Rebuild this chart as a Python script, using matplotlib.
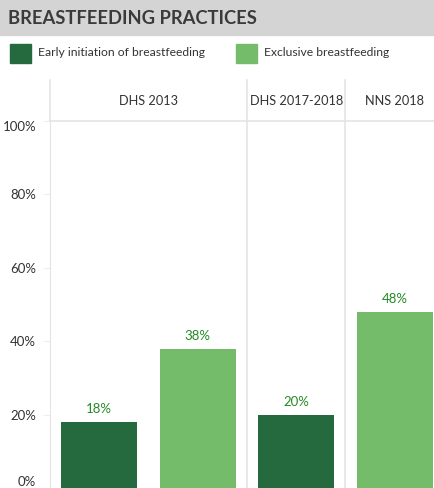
import matplotlib.pyplot as plt
from matplotlib.patches import Rectangle

# datos
encuestas = ['DHS 2013', 'DHS 2017-2018', 'NNS 2018']
series = ['Early initiation of breastfeeding', 'Exclusive breastfeeding']
barras_encuesta = ['DHS 2013', 'DHS 2013', 'DHS 2017-2018', 'NNS 2018']
barras_serie = ['Early initiation of breastfeeding', 'Exclusive breastfeeding',
                'Early initiation of breastfeeding', 'Exclusive breastfeeding']
valores = [18, 38, 20, 48]
ticks = [0, 20, 40, 60, 80, 100]

colores = {'Early initiation of breastfeeding': '#246a3e',
           'Exclusive breastfeeding': '#74bc6a'}

plt.rcParams['font.family'] = ['Lato', 'DejaVu Sans']

W, H = 435, 488
fig = plt.figure(figsize=(W / 100, H / 100), dpi=100)

# banda de titulo
fig.patches.append(Rectangle((0, 1 - 35 / H), 1, 35 / H, transform=fig.transFigure,
                             color='#d4d4d4', zorder=0))
fig.text(8 / W, 1 - 18 / H, 'BREASTFEEDING PRACTICES', fontsize=13.2, fontweight='bold',
         color='#3a3a3a', va='center', ha='left')

# leyenda
leg_x = [10, 236]
for x, s in zip(leg_x, series):
    fig.patches.append(Rectangle((x / W, 1 - 63 / H), 21 / W, 19 / H, transform=fig.transFigure,
                                 color=colores[s]))
    fig.text((x + 28) / W, 1 - 53 / H, s, fontsize=8.7, color='#333333', va='center', ha='left')

# eje principal (el ancho se sale de la figura a la derecha)
slot = 98.5
x0 = 50
ax_top = 121
ax = fig.add_axes([x0 / W, 0, 4 * slot / W, (H - ax_top) / H])
pos = list(range(len(valores)))
ax.bar(pos, valores, width=76 / slot, color=[colores[s] for s in barras_serie], zorder=2)
for p, v in zip(pos, valores):
    ax.text(p, v + 1.8, f'{v}%', ha='center', va='bottom', fontsize=9.5, color='#228a22')

ax.set_xlim(-0.5, len(valores) - 0.5)
ax.set_ylim(0, 100)
ax.set_yticks(ticks)
ax.set_yticklabels([f'{t}%' for t in ticks], fontsize=9.5, color='#333333')
ax.tick_params(axis='y', length=5, color='#eeeeee', pad=5)
for lab in ax.get_yticklabels():
    if lab.get_text() == '0%':
        lab.set_va('bottom')
    elif lab.get_text() == '100%':
        lab.set_va('top')
ax.set_xticks([])
for s in ['top', 'right', 'bottom']:
    ax.spines[s].set_visible(False)
ax.spines['left'].set_color('#e4e4e4')

# separadores entre encuestas
limites = [1.5, 2.5]
for b in limites:
    ax.axvline(b, color='#e4e4e4', lw=1.2, zorder=1)

# fila de encabezados
hdr_bottom = ax_top
hdr_top = 80
line_y = 1 - hdr_bottom / H
fig.add_artist(plt.Line2D([x0 / W, 1], [line_y, line_y], transform=fig.transFigure,
                          color='#e4e4e4', lw=1.2))
bordes = [x0 + slot * b + slot / 2 for b in [-0.5] + limites]
for xb in bordes:
    fig.add_artist(plt.Line2D([xb / W, xb / W], [1 - hdr_top / H, line_y],
                              transform=fig.transFigure, color='#e4e4e4', lw=1.2))
centros = [x0 + slot, x0 + slot * 2.5, x0 + slot * 3.5]
for c, e in zip(centros, encuestas):
    fig.text(c / W, 1 - 101 / H, e, fontsize=9.2, color='#333333', ha='center', va='center')

plt.savefig('out.png', dpi=100)
